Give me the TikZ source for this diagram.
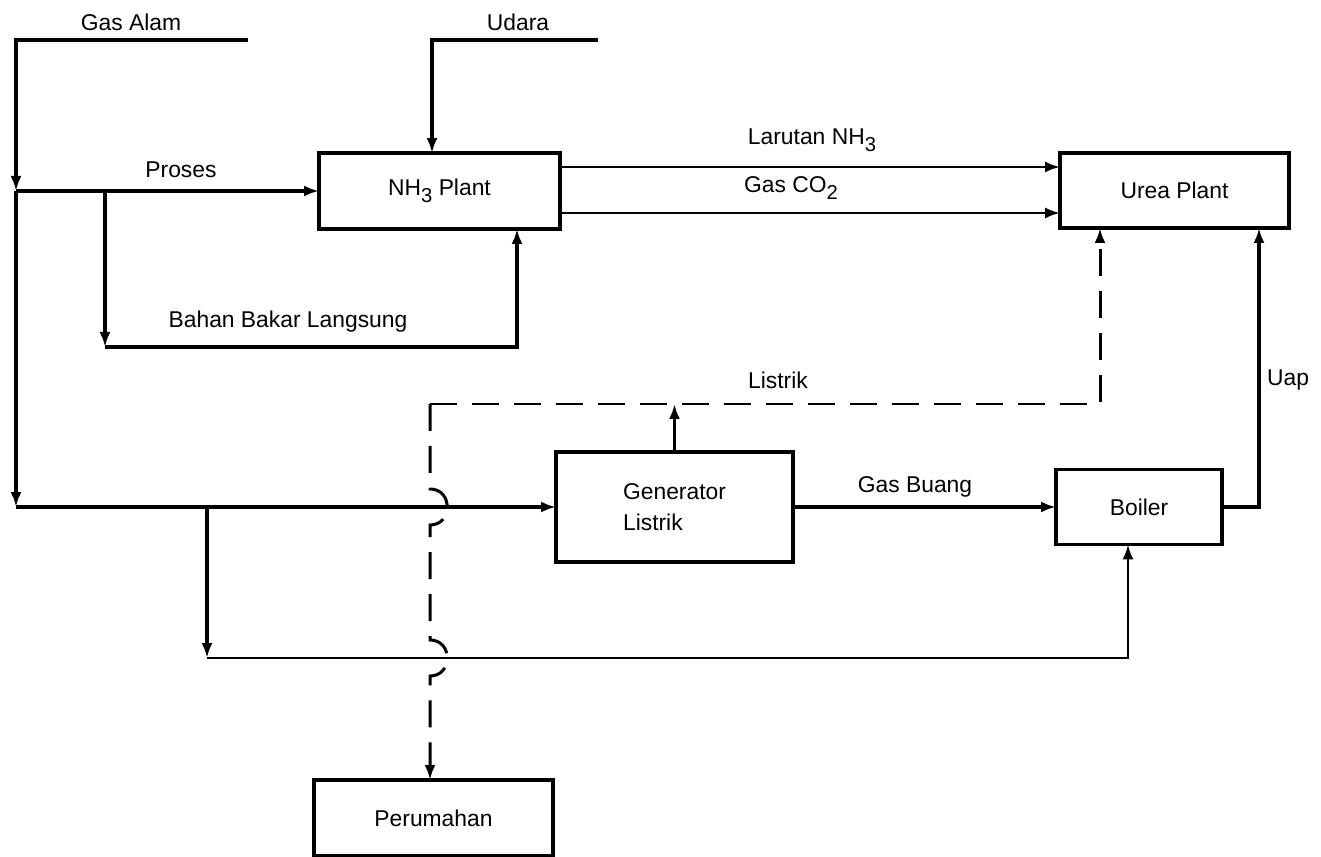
\documentclass[tikz,border=0pt]{standalone}
\usepackage{fontspec}
\setmainfont{Liberation Sans}
\usetikzlibrary{arrows.meta}
\newcommand{\lowsub}[1]{\raisebox{-0.55ex}{\fontsize{11.5}{12}\selectfont #1}}
\begin{document}
\begin{tikzpicture}[x=0.02cm,y=-0.02cm,
  every node/.style={font=\fontsize{13}{16}\selectfont},
  lbl/.style={inner sep=0pt},
  box/.style={draw,line width=1.9pt,inner sep=0pt,outer sep=0pt,align=center},
  mainline/.style={line width=1.9pt},
  thinline/.style={line width=1.3pt},
  dsh/.style={line width=1.7pt,dash pattern=on 0.54cm off 0.3cm},
  arr/.style={-{Latex[length=0.3cm,width=0.22cm]}}]
\useasboundingbox (0,0) rectangle (1321,857);

% boxes
\node[box,minimum width=4.82cm,minimum height=1.52cm] (nh3) at (439.5,191) {NH\lowsub{3} Plant};
\node[box,minimum width=4.58cm,minimum height=1.5cm] (urea) at (1174.5,190.5) {Urea Plant};
\node[box,minimum width=4.74cm,minimum height=2.2cm,align=left] (gen) at (674.5,507) {Generator\\[2pt]Listrik};
\node[box,minimum width=3.32cm,minimum height=1.5cm] (boil) at (1139,507) {Boiler};
\node[box,minimum width=4.78cm,minimum height=1.52cm] (per) at (433.5,818) {Perumahan};

% labels
\node[lbl] (tga) at (131,22) {Gas Alam};
\node[lbl] (tud) at (518,22) {Udara};
\node[lbl] (tpr) at (181,170) {Proses};
\node[lbl] (tbb) at (288,322) {Bahan Bakar Langsung};
\node[lbl] (tla) at (812,140) {Larutan NH\lowsub{3}};
\node[lbl] (tco) at (791,188) {Gas CO\lowsub{2}};
\node[lbl] (tli) at (778,380) {Listrik};
\node[lbl] (tgb) at (915,487) {Gas Buang};
\node[lbl] (tua) at (1288,380) {Uap};

% junction coordinates
\coordinate (ga1) at (248,40);
\coordinate (ga0) at (16,40);
\coordinate (jp) at (16,191);
\coordinate (jb) at (105,191);
\coordinate (bb0) at (105,347);
\coordinate (bb1) at (517,347);
\coordinate (jg) at (16,507);
\coordinate (jl) at (207,507);
\coordinate (lp0) at (207,658);
\coordinate (lp1) at (1128,658);
\coordinate (ud1) at (598,40);
\coordinate (ud0) at (432,40);
\coordinate (dl) at (430,404);
\coordinate (dr) at (1100,404);
\coordinate (uc) at (1259,507);

% Gas Alam feed
\draw[mainline,arr] (ga1) -- (ga0) -- (jp);
\draw[mainline,arr] (jp) -- (jg);
\draw[mainline,arr] (jp) -- (jp -| nh3.west);
\draw[mainline,arr] (jb) -- (bb0);
\draw[mainline,arr] (bb0) -- (bb1) -- (bb1 |- nh3.south);
\draw[mainline,arr] (jg) -- (jg -| gen.west);
\draw[mainline,arr] (jl) -- (lp0);
\draw[thinline,arr] (lp0) -- (lp1) -- (lp1 |- boil.south);

% Udara
\draw[mainline,arr] (ud1) -- (ud0) -- (ud0 |- nh3.north);

% NH3 plant to urea plant
\draw[thinline,arr] (nh3.east |- 0,167) -- (urea.west |- 0,167);
\draw[thinline,arr] (nh3.east |- 0,213) -- (urea.west |- 0,213);

% generator, boiler, steam
\draw[mainline,arr] (gen.north) -- (gen.north |- dl);
\draw[mainline,arr] (gen.east) -- (boil.west);
\draw[mainline,arr] (boil.east) -- (uc) -- (uc |- urea.south);

% electricity (dashed)
\draw[dsh,arr] (dl) -- (dr) -- (dr |- urea.south);
\draw[dsh,arr] (dl) -- (430,489) .. controls (453,489) and (453,525) .. (430,525)
  -- (430,640) .. controls (453,640) and (453,676) .. (430,676) -- (dl |- per.north);
\end{tikzpicture}
\end{document}
